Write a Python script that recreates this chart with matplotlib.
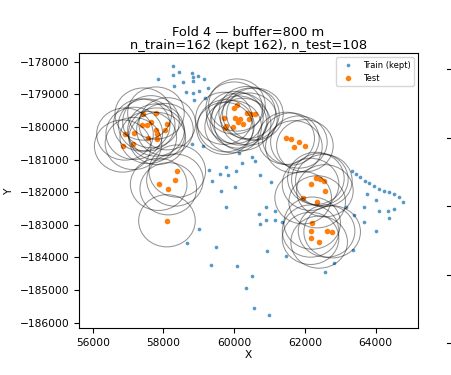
import matplotlib
matplotlib.use("Agg")
import matplotlib.pyplot as plt
from matplotlib.patches import Circle
from matplotlib.lines import Line2D

buffer_m = 800
title = "Fold 4 \u2014 buffer=800 m\nn_train=162 (kept 162), n_test=108"

train_x = [58268, 58437, 58268, 58814, 58825, 58983, 59144, 57845, 58543, 58842,
           58297, 58636, 58825, 59266, 59011, 58870, 59172,
           58797, 59124, 60133, 60492, 60585, 60209, 59300, 59766, 60048, 59610,
           59836, 59362, 60726, 61029, 60034, 59616, 59757, 60887, 60712, 60726,
           60890, 61150, 61164, 59011, 58656, 59478, 61348,
           63317, 63438, 63565, 63692, 63820, 63961, 64082, 64238, 64385, 64526,
           64647, 64766, 63757, 64012, 63670, 63170, 64096, 64351, 64526, 64376,
           63382, 63995, 63670,
           60916, 61469, 63348, 59350, 60085, 60492, 62831, 62562, 60322, 60571, 60986]
train_y = [-178123, -178316, -178399, -178337, -178460, -178439, -178540, -178540, -178623, -178601,
           -178745, -178929, -178951, -178797, -178908, -179175, -179104,
           -180524, -180570, -180791, -180914, -181046, -181098, -181322, -181220, -181346, -181450,
           -181463, -181653, -181475, -181690, -181834, -181956, -182466, -182466, -182671, -182969,
           -182843, -182864, -182573, -183140, -183570, -183674, -182916,
           -181352, -181444, -181545, -181650, -181726, -181797, -181895, -181956, -181981, -182058,
           -182159, -182294, -182064, -182229, -182466, -182466, -182588, -182570, -182524, -182785,
           -182693, -183192, -182926,
           -183806, -183953, -183781, -184226, -184266, -184582, -184183, -184444, -184947, -185560, -185778]

test_x = [57429, 57788, 57647, 57384, 57526, 58107, 57788, 58042, 57175, 56912,
          57808, 57571, 57825, 57153, 56848,
          60077, 60000, 60367, 60472, 60585, 60020, 60161, 59709, 60415, 60119,
          60238, 59766, 59972, 59737,
          61469, 61602, 61828, 61687, 61998,
          62308, 62421, 62534, 62158, 62563, 61949, 62345,
          62204, 62158, 62611, 62769, 62158, 62401,
          58390, 58325, 57865, 58136, 58099]
test_y = [-179604, -179573, -179840, -179941, -179941, -179902, -180095, -180079, -180196, -180217,
          -180217, -180325, -180355, -180509, -180585,
          -179328, -179420, -179558, -179604, -179604, -179711, -179757, -179736, -179757, -179849,
          -179920, -179963, -179994, -180043,
          -180349, -180371, -180463, -180607, -180576,
          -181576, -181607, -181644, -181760, -181956, -182171, -182294,
          -182947, -183192, -183192, -183214, -183416, -183530,
          -181352, -181628, -181760, -181895, -182876]

xticks = [56000, 58000, 60000, 62000, 64000]
yticks = [-178000, -179000, -180000, -181000, -182000, -183000, -184000, -185000, -186000]

fig = plt.figure(figsize=(4.51, 3.75), dpi=100)
ax = fig.add_axes([79/451, 1-328/375, (418-79)/451, (328-53)/375])

ax.scatter(train_x, train_y, s=7, color="#1f77b4", alpha=0.75, label="Train (kept)", zorder=2, linewidths=0)
ax.scatter(test_x, test_y, s=16, color="#ff7f0e", label="Test", zorder=3, linewidths=0)
for cx, cy in zip(test_x, test_y):
    ax.add_patch(Circle((cx, cy), buffer_m, fill=False, edgecolor="black",
                        alpha=0.42, linewidth=0.75, zorder=4))

ax.set_xlim(55613, 65195)
ax.set_ylim(-186163, -177733)
ax.set_xticks(xticks)
ax.set_yticks(yticks)
ax.tick_params(labelsize=7.7)
ax.set_xlabel("X", fontsize=7.7, labelpad=2)
ax.set_ylabel("Y", fontsize=7.7)
ax.set_title(title, fontsize=9.4, pad=3, linespacing=1.0)
ax.legend(loc="upper right", fontsize=6, markerscale=1.0, framealpha=0.8)

for ypx in [69, 137.5, 206, 274.5, 343]:
    fig.add_artist(Line2D([447/451, 451/451], [1-ypx/375, 1-ypx/375],
                          transform=fig.transFigure, color="black", linewidth=0.8))

fig.savefig("out.png", dpi=100)
